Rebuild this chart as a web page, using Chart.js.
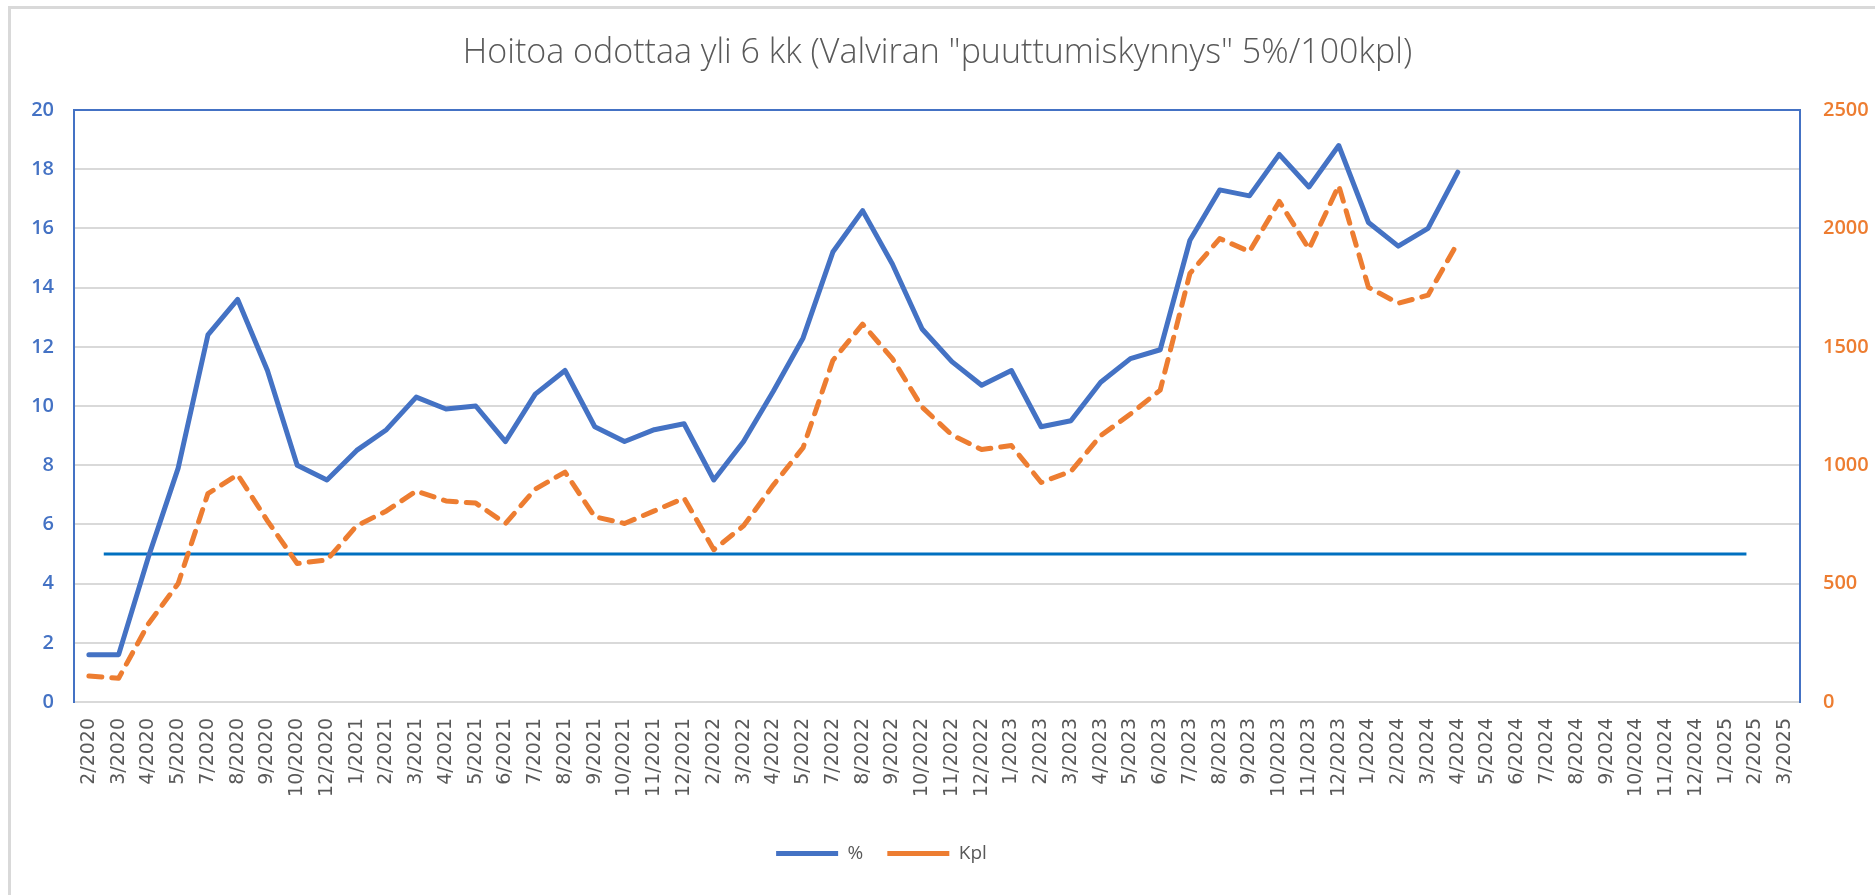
<!DOCTYPE html>
<html>
<head>
<meta charset="utf-8">
<script src="https://cdn.jsdelivr.net/npm/chart.js@4/dist/chart.umd.min.js"></script>
<style>
  html, body { margin: 0; padding: 0; background: #ffffff; }
  #wrap { position: relative; width: 1875px; height: 895px; }
  #frameTop { position: absolute; left: 8px; top: 6px; width: 1867px; height: 0; border-top: 3px solid #D9D9D9; }
  #frameLeft { position: absolute; left: 8px; top: 6px; width: 0; height: 889px; border-left: 3px solid #D9D9D9; }
  canvas { position: absolute; left: 0; top: 0; }
</style>
</head>
<body>
<div id="wrap">
  <canvas id="c" width="1875" height="895"></canvas>
  <div id="frameTop"></div>
  <div id="frameLeft"></div>
</div>
<script>
const chartTitle = 'Hoitoa odottaa yli 6 kk (Valviran "puuttumiskynnys" 5%/100kpl)';
const categories = [
  '2/2020','3/2020','4/2020','5/2020','7/2020','8/2020','9/2020','10/2020','12/2020',
  '1/2021','2/2021','3/2021','4/2021','5/2021','6/2021','7/2021','8/2021','9/2021','10/2021','11/2021','12/2021',
  '2/2022','3/2022','4/2022','5/2022','7/2022','8/2022','9/2022','10/2022','11/2022','12/2022',
  '1/2023','2/2023','3/2023','4/2023','5/2023','6/2023','7/2023','8/2023','9/2023','10/2023','11/2023','12/2023',
  '1/2024','2/2024','3/2024','4/2024','5/2024','6/2024','7/2024','8/2024','9/2024','10/2024','11/2024','12/2024',
  '1/2025','2/2025','3/2025'
];
const pctLabel = '%';
const pctValues = [1.6,1.6,4.9,7.9,12.4,13.6,11.2,8.0,7.5,8.5,9.2,10.3,9.9,10.0,8.8,10.4,11.2,9.3,8.8,9.2,9.4,7.5,8.8,10.5,12.3,15.2,16.6,14.8,12.6,11.5,10.7,11.2,9.3,9.5,10.8,11.6,11.9,15.6,17.3,17.1,18.5,17.4,18.8,16.2,15.4,16.0,17.9];
const kplLabel = 'Kpl';
const kplValues = [110,100,330,500,880,960,765,585,600,744,807,891,849,840,754,899,971,782,754,807,861,643,744,916,1074,1442,1596,1450,1245,1128,1066,1083,927,974,1125,1216,1317,1810,1957,1902,2114,1913,2181,1751,1684,1718,1940];
const thresholdValue = 5;
const thresholdFrom = 0.5;   // category index where the threshold line starts
const thresholdTo = 55.7;    // category index where it ends
const leftTicks = { min: 0, max: 20, step: 2 };
const rightTicks = { min: 0, max: 2500, step: 500 };

const BLUE = '#4472C4', ORANGE = '#ED7D31', DARKBLUE = '#0070C0', GRID = '#D9D9D9', TEXT = '#595959';

const shiftLegend = {
  id: 'shiftLegend',
  afterLayout(chart) {
    const lg = chart.legend;
    if (lg) { lg.left -= 56; lg.right -= 56; }
  }
};

new Chart(document.getElementById('c'), {
  type: 'line',
  data: {
    labels: categories,
    datasets: [
      {
        label: pctLabel, data: pctValues, yAxisID: 'y', xAxisID: 'x',
        borderColor: BLUE, backgroundColor: BLUE, borderWidth: 5,
        borderJoinStyle: 'round', borderCapStyle: 'round',
        pointRadius: 0, tension: 0, order: 1
      },
      {
        label: kplLabel, data: kplValues, yAxisID: 'y1', xAxisID: 'x',
        borderColor: ORANGE, backgroundColor: ORANGE, borderWidth: 5,
        borderDash: [13, 10], borderJoinStyle: 'round', borderCapStyle: 'round',
        pointRadius: 0, tension: 0, order: 2
      },
      {
        label: 'threshold', data: [{x: thresholdFrom, y: thresholdValue}, {x: thresholdTo, y: thresholdValue}],
        yAxisID: 'y', xAxisID: 'xl',
        borderColor: DARKBLUE, backgroundColor: DARKBLUE, borderWidth: 3,
        pointRadius: 0, tension: 0, order: 3
      }
    ]
  },
  options: {
    responsive: false,
    animation: false,
    events: [],
    layout: { padding: { top: 0, left: 0, right: 0, bottom: 22 } },
    plugins: {
      title: {
        display: true, text: chartTitle, color: TEXT,
        font: { family: '"Open Sans", sans-serif', size: 34, weight: '300', lineHeight: 1.2 },
        padding: { top: 32.6, bottom: 36.6 }
      },
      legend: {
        display: true, position: 'bottom',
        labels: {
          usePointStyle: true, pointStyle: 'line', pointStyleWidth: 62,
          color: TEXT, padding: 24,
          font: { family: '"Open Sans", sans-serif', size: 19 },
          filter: (item) => item.text !== 'threshold'
        }
      },
      tooltip: { enabled: false }
    },
    scales: {
      x: {
        type: 'category', position: 'bottom', offset: true,
        grid: { display: false, drawTicks: false },
        border: { display: true, color: GRID, width: 2 },
        ticks: {
          autoSkip: false, maxRotation: 90, minRotation: 90, padding: 16,
          color: TEXT, font: { family: '"DejaVu Sans", sans-serif', size: 19 }
        },
        afterFit: (s) => { s.height = 118; }
      },
      xl: {
        type: 'linear', position: 'top', min: -0.5, max: categories.length - 0.5,
        grid: { display: false, drawTicks: false },
        border: { display: true, color: BLUE, width: 2 },
        ticks: { display: false },
        afterFit: (s) => { s.height = 0; }
      },
      y: {
        type: 'linear', position: 'left', min: leftTicks.min, max: leftTicks.max,
        grid: { color: GRID, lineWidth: 2, drawTicks: false },
        border: { display: true, color: BLUE, width: 2 },
        ticks: {
          stepSize: leftTicks.step, padding: 20, color: BLUE,
          font: { family: '"Open Sans", sans-serif', size: 20, weight: '600' }
        },
        afterFit: (s) => { s.width = 74; }
      },
      y1: {
        type: 'linear', position: 'right', min: rightTicks.min, max: rightTicks.max,
        grid: { drawOnChartArea: false, drawTicks: false },
        border: { display: true, color: BLUE, width: 2 },
        ticks: {
          stepSize: rightTicks.step, padding: 23, color: ORANGE,
          callback: (v) => String(v),
          font: { family: '"Open Sans", sans-serif', size: 20, weight: '600' }
        },
        afterFit: (s) => { s.width = 75; }
      }
    }
  },
  plugins: [shiftLegend]
});
</script>
</body>
</html>
